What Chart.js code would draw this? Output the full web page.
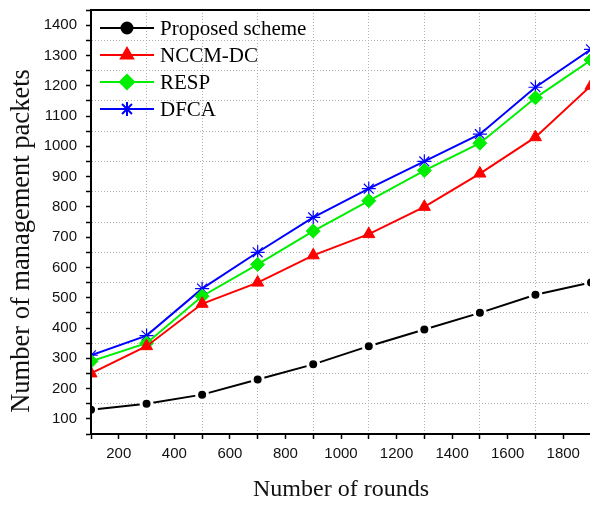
<!DOCTYPE html>
<html>
<head>
<meta charset="utf-8">
<script src="https://cdn.jsdelivr.net/npm/chart.js@4.4.1/dist/chart.umd.min.js"></script>
<style>
  html, body { margin: 0; padding: 0; background: #fff; overflow: hidden; }
  canvas { display: block; }
</style>
</head>
<body>
<canvas id="chart" width="592" height="505"></canvas>
<script>
// Data
const rounds = [100, 300, 500, 700, 900, 1100, 1300, 1500, 1700, 1900];
const proposed = [130, 150, 180, 230, 280, 340, 395, 450, 510, 550];
const nccmDc = [250, 340, 480, 550, 640, 710, 800, 910, 1030, 1200];
const resp = [290, 350, 505, 610, 720, 820, 920, 1010, 1160, 1285];
const dfca = [310, 375, 530, 650, 765, 860, 950, 1040, 1195, 1320];

const seriesNames = ['Proposed scheme', 'NCCM-DC', 'RESP', 'DFCA'];
const yTitle = 'Number of management packets';

function toPoints(values) {
    return rounds.map((r, i) => ({ x: r, y: values[i] }));
}

// Frame box around plot area + y axis title (drawn by hand so it can sit a bit lower)
const frameBox = {
    id: 'frameBox',
    afterDatasetsDraw(chart) {
        const a = chart.chartArea;
        const ctx = chart.ctx;
        ctx.save();
        ctx.strokeStyle = '#000';
        ctx.lineWidth = 2;
        ctx.strokeRect(a.left, a.top, a.right - a.left, a.bottom - a.top);
        ctx.restore();

        ctx.save();
        ctx.translate(22, 241);
        ctx.rotate(-Math.PI / 2);
        ctx.fillStyle = '#111';
        ctx.font = '26.5px "Liberation Serif", "Times New Roman", serif';
        ctx.textAlign = 'center';
        ctx.textBaseline = 'middle';
        ctx.fillText(yTitle, 0, 0);
        ctx.restore();
    }
};

// Legend with line + marker samples, like the original
const lineLegend = {
    id: 'lineLegend',
    afterDraw(chart) {
        const ctx = chart.ctx;
        ctx.save();
        chart.data.datasets.forEach((ds, i) => {
            const y = 28 + i * 27;
            ctx.strokeStyle = ds.borderColor;
            ctx.lineWidth = 2;
            ctx.beginPath();
            ctx.moveTo(100, y);
            ctx.lineTo(154, y);
            ctx.stroke();
            ctx.fillStyle = ds.pointBackgroundColor;
            ctx.strokeStyle = ds.pointStyle === 'star' ? ds.borderColor : ds.pointBackgroundColor;
            Chart.helpers.drawPoint(ctx, {
                pointStyle: ds.pointStyle,
                radius: ds.pointRadius,
                borderWidth: ds.pointStyle === 'star' ? 1.2 : 1,
                rotation: 0
            }, 127, y);
            ctx.fillStyle = '#000';
            ctx.font = '21px "Liberation Serif", "Times New Roman", serif';
            ctx.textBaseline = 'middle';
            ctx.fillText(seriesNames[i], 160, y + 1);
        });
        ctx.restore();
    }
};

const ctx = document.getElementById('chart').getContext('2d');
const chart = new Chart(ctx, {
    type: 'line',
    data: {
        datasets: [
            {
                label: seriesNames[0],
                data: toPoints(proposed),
                borderColor: '#000',
                borderWidth: 2,
                pointStyle: 'circle',
                pointRadius: 5.5,
                pointBackgroundColor: '#000',
                pointBorderColor: '#fff',
                pointBorderWidth: 3
            },
            {
                label: seriesNames[1],
                data: toPoints(nccmDc),
                borderColor: '#ff0000',
                borderWidth: 2,
                pointStyle: 'triangle',
                pointRadius: 7,
                pointBackgroundColor: '#ff0000',
                pointBorderColor: '#ff0000',
                pointBorderWidth: 1
            },
            {
                label: seriesNames[2],
                data: toPoints(resp),
                borderColor: '#00ee00',
                borderWidth: 2,
                pointStyle: 'rectRot',
                pointRadius: 7,
                pointBackgroundColor: '#00ee00',
                pointBorderColor: '#00ee00',
                pointBorderWidth: 1
            },
            {
                label: seriesNames[3],
                data: toPoints(dfca),
                borderColor: '#0000ff',
                borderWidth: 2,
                pointStyle: 'star',
                pointRadius: 7,
                pointBackgroundColor: '#0000ff',
                pointBorderColor: '#0000ff',
                pointBorderWidth: 1.2
            }
        ]
    },
    options: {
        responsive: false,
        animation: false,
        layout: { autoPadding: false, padding: { left: 0, top: 10, right: 1, bottom: 0 } },
        plugins: {
            legend: { display: false },
            tooltip: { enabled: false }
        },
        scales: {
            x: {
                type: 'linear',
                min: 100,
                max: 1900,
                afterFit: function(scale) {
                    scale.height = 71;
                    scale.paddingLeft = 0;
                    scale.paddingRight = 0;
                },
                border: { color: '#000', width: 2, dash: [1, 2] },
                grid: {
                    color: function(c) {
                        const v = c.tick.value;
                        return (v % 200 === 100 && v > 100 && v < 1900) ? '#b0b0b0' : 'rgba(0,0,0,0)';
                    },
                    lineWidth: 1,
                    tickColor: '#000',
                    tickLength: 5,
                    tickWidth: 1.5
                },
                ticks: {
                    stepSize: 100,
                    autoSkip: false,
                    maxRotation: 0,
                    padding: 6,
                    color: '#111',
                    font: { family: '"Liberation Sans", Arial, sans-serif', size: 15 },
                    callback: function(v) { return v % 200 === 0 ? v : ''; }
                },
                title: {
                    display: true,
                    text: 'Number of rounds',
                    color: '#111',
                    font: { family: '"Liberation Serif", "Times New Roman", serif', size: 24 },
                    padding: { top: 0, bottom: 1 }
                }
            },
            y: {
                min: 50,
                max: 1450,
                afterFit: function(scale) {
                    scale.width = 91;
                    scale.paddingTop = 0;
                    scale.paddingBottom = 0;
                },
                border: { color: '#000', width: 2, dash: [1, 2] },
                grid: {
                    color: function(c) {
                        const v = c.tick.value;
                        return (v % 100 === 50 && v > 50 && v < 1450) ? '#b0b0b0' : 'rgba(0,0,0,0)';
                    },
                    lineWidth: 1,
                    tickColor: '#000',
                    tickLength: 5,
                    tickWidth: 1.5
                },
                ticks: {
                    stepSize: 50,
                    autoSkip: false,
                    padding: 9,
                    color: '#111',
                    font: { family: '"Liberation Sans", Arial, sans-serif', size: 15 },
                    callback: function(v) { return v % 100 === 0 ? v : ''; }
                },
                title: { display: false }
            }
        }
    },
    plugins: [frameBox, lineLegend]
});
</script>
</body>
</html>
